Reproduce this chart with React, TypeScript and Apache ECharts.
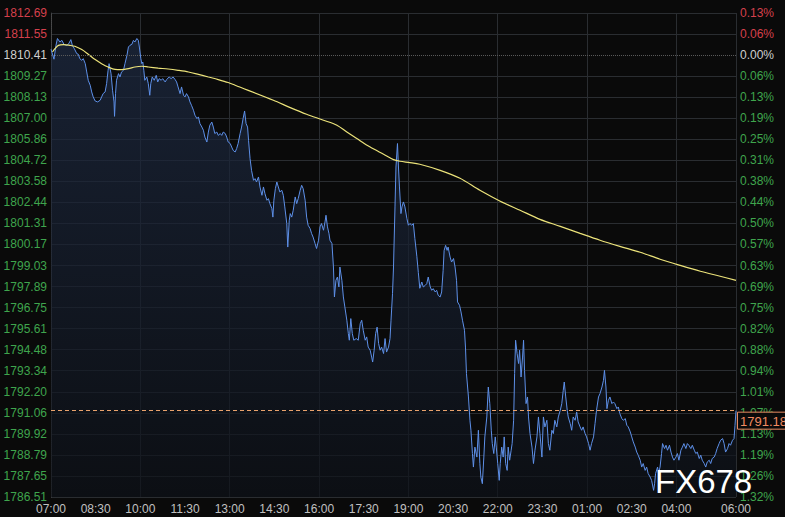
import React, { useEffect, useRef } from 'react';
import * as echarts from 'echarts';

// ---- axis scale (price ticks shown on the chart) ----
const BASE_PRICE = 1786.51;
const TOP_PRICE = 1812.69;
const N_STEPS = 23;
const STEP = (TOP_PRICE - BASE_PRICE) / N_STEPS;
const PREV_CLOSE = 1810.41;
const LAST_PRICE = 1791.18;

// tick labels, top to bottom
const LEFT_LABELS = [
  '1812.69', '1811.55', '1810.41', '1809.27', '1808.13', '1807.00', '1805.86', '1804.72',
  '1803.58', '1802.44', '1801.31', '1800.17', '1799.03', '1797.89', '1796.75', '1795.61',
  '1794.48', '1793.34', '1792.20', '1791.06', '1789.92', '1788.79', '1787.65', '1786.51',
];
const RIGHT_LABELS = [
  '0.13%', '0.06%', '0.00%', '0.06%', '0.13%', '0.19%', '0.25%', '0.31%',
  '0.38%', '0.44%', '0.50%', '0.57%', '0.63%', '0.69%', '0.75%', '0.82%',
  '0.88%', '0.94%', '1.01%', '1.07%', '1.13%', '1.19%', '1.26%', '1.32%',
];

// x axis: minutes after 07:00, labels every 90 min, ends at 06:00 (+23h)
const X_MAX = 1380;
const X_LABEL_STEP = 90;
const X_GRID_STEP = 180;
const X_HIDDEN_LABELS = ['05:30'];

// gold price: [minutes after 07:00, price]
const GOLD: [number, number][] = [
  [0, 1810.73], [6, 1810.19], [10, 1810.94], [13, 1811.31], [18, 1811.12], [22, 1811.21], [26, 1811.0], [32, 1810.94],
  [36, 1811.04], [40, 1811.25], [43, 1810.94], [47, 1810.76], [52, 1810.49], [55, 1810.46], [58, 1810.22], [62, 1810.13],
  [65, 1810.22], [69, 1809.95], [72, 1809.5], [75, 1809.05], [79, 1808.78], [82, 1808.42], [85, 1808.15], [89, 1807.93],
  [94, 1807.88], [99, 1807.97], [102, 1808.15], [105, 1808.33], [109, 1808.42], [112, 1808.87], [115, 1809.59], [117, 1809.95],
  [121, 1809.41], [124, 1808.51], [127, 1807.88], [128, 1807.1], [130, 1808.33], [132, 1809.05], [136, 1809.41], [139, 1809.23],
  [142, 1809.5], [146, 1809.59], [149, 1809.95], [153, 1810.4], [156, 1810.85], [159, 1810.94], [163, 1811.0], [166, 1811.21],
  [169, 1811.12], [173, 1811.31], [176, 1811.21], [178, 1810.85], [181, 1810.22], [183, 1809.95], [185, 1810.04], [187, 1809.59],
  [189, 1809.05], [193, 1809.23], [196, 1808.87], [199, 1808.24], [201, 1808.87], [204, 1809.23], [208, 1809.05], [212, 1809.32],
  [215, 1808.96], [218, 1809.14], [222, 1809.05], [225, 1809.14], [230, 1808.96], [233, 1809.09], [238, 1809.23], [242, 1809.14],
  [246, 1809.23], [250, 1809.09], [253, 1808.96], [256, 1808.69], [260, 1808.33], [263, 1808.69], [267, 1808.24], [270, 1808.15],
  [273, 1808.33], [277, 1808.15], [280, 1807.88], [283, 1807.7], [287, 1807.43], [290, 1807.16], [294, 1806.98], [297, 1807.07],
  [300, 1806.71], [304, 1806.52], [307, 1806.35], [310, 1805.98], [314, 1805.71], [317, 1806.25], [320, 1806.62], [324, 1806.79],
  [327, 1806.52], [330, 1806.17], [334, 1806.25], [337, 1806.07], [341, 1806.17], [344, 1806.07], [347, 1806.25], [351, 1806.17],
  [354, 1805.98], [357, 1805.71], [361, 1805.63], [364, 1805.44], [367, 1805.26], [371, 1805.17], [374, 1805.36], [377, 1805.63],
  [381, 1806.17], [384, 1806.52], [387, 1806.98], [390, 1807.39], [393, 1806.71], [396, 1806.52], [398, 1805.8], [401, 1804.81],
  [404, 1804.18], [408, 1803.64], [411, 1803.73], [414, 1803.55], [418, 1803.82], [421, 1803.28], [425, 1802.83], [428, 1803.28],
  [431, 1802.92], [435, 1802.56], [438, 1802.65], [441, 1802.38], [445, 1802.11], [447, 1801.65], [449, 1802.56], [452, 1803.19],
  [455, 1803.55], [458, 1803.28], [461, 1803.01], [465, 1803.1], [468, 1802.83], [471, 1802.2], [475, 1801.3], [477, 1800.03],
  [480, 1801.48], [482, 1801.84], [485, 1801.65], [488, 1802.02], [492, 1802.74], [495, 1802.38], [498, 1802.65], [502, 1803.1],
  [505, 1803.37], [508, 1803.19], [512, 1802.56], [515, 1801.65], [518, 1801.21], [522, 1801.03], [525, 1800.76], [528, 1800.57],
  [532, 1800.22], [535, 1799.95], [539, 1800.4], [542, 1801.12], [545, 1801.3], [549, 1800.94], [552, 1801.39], [554, 1801.75],
  [557, 1801.12], [560, 1800.76], [562, 1800.4], [566, 1800.22], [569, 1798.95], [571, 1797.33], [574, 1798.23], [577, 1798.41],
  [580, 1797.87], [582, 1798.95], [586, 1798.23], [589, 1797.33], [592, 1796.79], [596, 1796.07], [599, 1795.35], [601, 1794.99],
  [604, 1796.16], [607, 1795.35], [610, 1794.99], [615, 1795.08], [619, 1794.99], [623, 1795.89], [626, 1796.07], [629, 1795.53],
  [633, 1794.99], [636, 1795.17], [639, 1794.62], [643, 1794.45], [646, 1794.08], [648, 1793.81], [651, 1794.45], [654, 1795.35],
  [657, 1795.7], [660, 1794.81], [663, 1794.45], [666, 1794.62], [670, 1794.27], [673, 1795.08], [676, 1794.35], [680, 1794.62],
  [683, 1795.08], [685, 1796.07], [688, 1797.51], [690, 1798.95], [693, 1802.2], [695, 1804.36], [698, 1805.63], [700, 1804.36],
  [702, 1803.28], [705, 1801.84], [707, 1802.2], [710, 1802.47], [713, 1802.2], [717, 1801.57], [720, 1801.21], [723, 1801.3],
  [727, 1801.21], [730, 1801.3], [733, 1800.5], [737, 1799.53], [740, 1798.66], [743, 1797.8], [747, 1798.14], [750, 1797.87],
  [754, 1797.96], [757, 1798.05], [760, 1798.41], [764, 1797.87], [767, 1797.69], [770, 1797.78], [774, 1797.6], [777, 1797.69],
  [780, 1797.42], [784, 1797.33], [787, 1797.6], [790, 1798.77], [792, 1799.85], [795, 1800.12], [798, 1799.85], [800, 1800.03],
  [804, 1799.49], [807, 1799.22], [811, 1799.41], [814, 1798.95], [817, 1798.23], [819, 1797.06], [823, 1796.88], [826, 1796.52],
  [829, 1796.07], [833, 1795.53], [835, 1794.62], [837, 1793.19], [841, 1791.92], [844, 1790.66], [846, 1790.12], [849, 1788.86],
  [851, 1788.13], [854, 1789.21], [858, 1788.67], [861, 1790.12], [864, 1788.32], [866, 1787.59], [869, 1787.23], [872, 1788.67],
  [874, 1789.76], [878, 1790.84], [881, 1792.46], [884, 1791.56], [887, 1790.12], [889, 1789.4], [892, 1788.86], [895, 1789.76],
  [897, 1789.21], [900, 1788.32], [903, 1787.41], [905, 1788.32], [908, 1789.21], [911, 1788.67], [913, 1789.76], [916, 1788.32],
  [919, 1787.95], [921, 1789.21], [924, 1788.5], [927, 1789.04], [929, 1789.4], [932, 1790.66], [934, 1793.19], [936, 1794.99],
  [939, 1794.27], [942, 1793.73], [944, 1794.45], [947, 1793.0], [950, 1794.08], [952, 1794.99], [954, 1793.36], [957, 1791.56],
  [960, 1791.92], [962, 1790.84], [965, 1789.94], [969, 1789.21], [972, 1788.32], [975, 1789.04], [979, 1789.76], [982, 1790.84],
  [985, 1789.94], [989, 1788.67], [992, 1790.84], [995, 1790.3], [999, 1790.66], [1002, 1789.4], [1005, 1789.04], [1009, 1790.12],
  [1012, 1789.94], [1015, 1790.66], [1019, 1790.3], [1022, 1790.84], [1026, 1791.2], [1029, 1791.56], [1032, 1792.28], [1034, 1792.73],
  [1037, 1791.92], [1040, 1791.2], [1042, 1790.84], [1046, 1790.48], [1049, 1790.12], [1052, 1790.84], [1056, 1790.66], [1059, 1791.11],
  [1062, 1790.57], [1066, 1790.3], [1069, 1790.12], [1072, 1790.3], [1076, 1789.94], [1079, 1789.76], [1083, 1789.4], [1086, 1789.04],
  [1089, 1789.4], [1093, 1789.76], [1096, 1790.48], [1099, 1791.2], [1103, 1791.92], [1106, 1792.1], [1110, 1792.46], [1113, 1792.82],
  [1115, 1793.36], [1118, 1792.46], [1120, 1791.29], [1123, 1791.74], [1126, 1791.92], [1130, 1791.56], [1133, 1791.65], [1136, 1791.56],
  [1140, 1791.29], [1143, 1791.38], [1146, 1791.02], [1150, 1790.75], [1153, 1790.66], [1157, 1790.75], [1160, 1790.39], [1163, 1790.3],
  [1167, 1790.03], [1170, 1789.76], [1173, 1789.49], [1177, 1789.21], [1180, 1788.94], [1183, 1788.77], [1187, 1788.5], [1190, 1788.13],
  [1193, 1788.32], [1197, 1787.95], [1200, 1788.13], [1203, 1787.78], [1207, 1787.59], [1210, 1787.41], [1214, 1786.87], [1216, 1787.23],
  [1218, 1787.78], [1222, 1788.13], [1224, 1787.78], [1227, 1788.13], [1230, 1788.86], [1232, 1789.4], [1236, 1789.13], [1239, 1789.31],
  [1242, 1789.04], [1246, 1789.31], [1249, 1788.94], [1252, 1788.67], [1255, 1788.5], [1259, 1788.67], [1262, 1788.86], [1265, 1788.5],
  [1269, 1789.04], [1272, 1789.21], [1275, 1789.4], [1279, 1789.13], [1282, 1789.4], [1285, 1789.31], [1289, 1789.13], [1292, 1789.31],
  [1296, 1789.04], [1299, 1788.86], [1302, 1788.94], [1306, 1788.59], [1309, 1788.77], [1312, 1788.5], [1316, 1788.32], [1319, 1788.13],
  [1322, 1788.4], [1326, 1788.5], [1329, 1788.32], [1332, 1788.59], [1336, 1788.67], [1339, 1788.86], [1342, 1789.13], [1346, 1789.4],
  [1349, 1789.58], [1353, 1789.67], [1356, 1789.4], [1359, 1788.94], [1363, 1789.13], [1366, 1789.4], [1369, 1789.31], [1373, 1789.58],
  [1376, 1789.67], [1378, 1790.39], [1380, 1791.18],
];

// moving average line
const MA_TIMES = [
  3, 8, 15, 25, 38, 48, 62, 75, 89, 102, 115, 129, 142, 156, 169, 183, 196, 216, 236, 256,
  277, 297, 317, 337, 357, 371, 448, 482, 515, 549, 576, 596, 616, 643, 670, 690, 703, 723, 743, 784,
  824, 864, 905, 945, 985, 1026, 1066, 1106, 1146, 1187, 1227, 1267, 1308, 1348, 1380,
];
const MA_PRICES = [
  1810.58, 1810.76, 1810.94, 1810.98, 1810.94, 1810.89, 1810.71, 1810.46, 1810.17, 1809.95,
  1809.77, 1809.64, 1809.63, 1809.68, 1809.77, 1809.81, 1809.77, 1809.71, 1809.66, 1809.59,
  1809.5, 1809.37, 1809.23, 1809.09, 1808.93, 1808.78, 1807.97, 1807.57, 1807.21, 1806.89,
  1806.62, 1806.25, 1805.9, 1805.44, 1805.05, 1804.76, 1804.67, 1804.6, 1804.51, 1804.18,
  1803.75, 1803.1, 1802.51, 1802.02, 1801.53, 1801.15, 1800.77, 1800.4, 1800.07, 1799.75,
  1799.37, 1799.04, 1798.72, 1798.45, 1798.23,
];

const RED = '#d5404c';
const GREEN = '#3fa54d';
const NEUTRAL = '#cfcfcf';
const GRID = '#2a2d31';
const FONT = 'Liberation Sans, Arial, sans-serif';

// convert price to axis step units (axis ticks = one label step)
const toUnits = (p: number) => (p - BASE_PRICE) / STEP;

const labelColor = (v: any) => {
  const idxFromTop = N_STEPS - Math.round(Number(v));
  if (idxFromTop < 2) return RED;
  if (idxFromTop === 2) return NEUTRAL;
  return GREEN;
};

const fmtTime = (v: number) => {
  const m = Math.round(v);
  const h = (7 + Math.floor(m / 60)) % 24;
  const mm = m % 60;
  const s = String(h).padStart(2, '0') + ':' + String(mm).padStart(2, '0');
  return X_HIDDEN_LABELS.includes(s) ? '' : s;
};

export default function App() {
  const ref = useRef<HTMLDivElement>(null);

  useEffect(() => {
    if (!ref.current) return;
    const chart = echarts.init(ref.current, undefined, { renderer: 'svg' });

    const splitColors: string[] = [];
    for (let k = 0; k <= N_STEPS; k++) {
      splitColors.push(N_STEPS - k === 2 ? 'rgba(0,0,0,0)' : GRID);
    }

    const option: any = {
      animation: false,
      backgroundColor: '#0a0a0a',
      grid: { left: 51, right: 49, top: 13, bottom: 20, containLabel: false },
      xAxis: [
        {
          type: 'value',
          min: 0,
          max: X_MAX,
          interval: X_LABEL_STEP,
          axisLine: { show: false },
          axisTick: { show: false },
          splitLine: { show: false },
          axisLabel: {
            color: '#c0c0c0',
            fontSize: 12,
            fontFamily: FONT,
            margin: 6,
            formatter: (v: number) => fmtTime(v),
          },
        },
        {
          type: 'value',
          position: 'top',
          min: 0,
          max: X_MAX,
          interval: X_GRID_STEP,
          axisLine: { show: false },
          axisTick: { show: false },
          axisLabel: { show: false },
          splitLine: { show: true, lineStyle: { color: GRID, width: 1 } },
        },
      ],
      yAxis: [
        {
          type: 'value',
          position: 'left',
          min: 0,
          max: N_STEPS,
          interval: 1,
          axisLine: { show: true, lineStyle: { color: '#3a3d42' } },
          axisTick: { show: false },
          splitLine: { show: true, lineStyle: { color: splitColors, width: 1 } },
          axisLabel: {
            fontSize: 12,
            fontFamily: FONT,
            margin: 4,
            color: labelColor,
            formatter: (v: number) => LEFT_LABELS[N_STEPS - Math.round(v)],
          },
        },
        {
          type: 'value',
          position: 'right',
          min: 0,
          max: N_STEPS,
          interval: 1,
          axisLine: { show: true, lineStyle: { color: '#4a4a4a', type: 'dotted' } },
          axisTick: { show: false },
          splitLine: { show: false },
          axisLabel: {
            fontSize: 12,
            fontFamily: FONT,
            margin: 4,
            color: labelColor,
            formatter: (v: number) => RIGHT_LABELS[N_STEPS - Math.round(v)],
          },
        },
      ],
      series: [
        {
          type: 'line',
          name: 'price',
          xAxisIndex: 0,
          yAxisIndex: 0,
          data: GOLD.map(([t, p]) => [t, toUnits(p)]),
          symbol: 'none',
          lineStyle: { color: '#5e90e8', width: 1 },
          areaStyle: {
            origin: 'start',
            color: new echarts.graphic.LinearGradient(0, 0, 0, 1, [
              { offset: 0, color: '#1e2b44' },
              { offset: 1, color: '#0d1118' },
            ]),
          },
          markLine: {
            silent: true,
            symbol: ['none', 'none'],
            label: { show: false },
            data: [
              { yAxis: toUnits(PREV_CLOSE), lineStyle: { color: '#5a5a5a', type: 'dotted', width: 1 } },
              { yAxis: toUnits(LAST_PRICE), lineStyle: { color: '#e9a26c', type: [4, 3], width: 1 } },
            ],
          },
          z: 3,
        },
        {
          type: 'line',
          name: 'ma',
          xAxisIndex: 0,
          yAxisIndex: 0,
          data: MA_TIMES.map((t, i) => [t, toUnits(MA_PRICES[i])]),
          symbol: 'none',
          smooth: 0.3,
          lineStyle: { color: '#ece37a', width: 1.2 },
          z: 4,
        },
      ],
    };
    chart.setOption(option);

    const pt = chart.convertToPixel({ xAxisIndex: 0, yAxisIndex: 0 }, [X_MAX, toUnits(LAST_PRICE)]) as number[];
    chart.setOption({
      graphic: [
        {
          type: 'rect',
          z: 100,
          shape: { x: pt[0] + 1.5, y: pt[1] + 1.5, width: 60, height: 17 },
          style: { fill: '#0a0a0a', stroke: '#e98a62', lineWidth: 1 },
        },
        {
          type: 'text',
          z: 101,
          x: pt[0] + 4,
          y: pt[1] + 10.5,
          style: {
            text: LAST_PRICE.toFixed(2),
            fill: '#f08a62',
            font: '13px ' + FONT,
            verticalAlign: 'middle',
            align: 'left',
          },
        },
        {
          type: 'text',
          z: 102,
          x: 655,
          y: 481,
          style: {
            text: 'FX678',
            fill: '#ffffff',
            font: '33px ' + FONT,
            verticalAlign: 'middle',
            align: 'left',
          },
        },
      ],
    });

    return () => chart.dispose();
  }, []);

  return (
    <div
      ref={ref}
      style={{ position: 'fixed', left: 0, top: 0, width: 785, height: 517 }}
    />
  );
}
